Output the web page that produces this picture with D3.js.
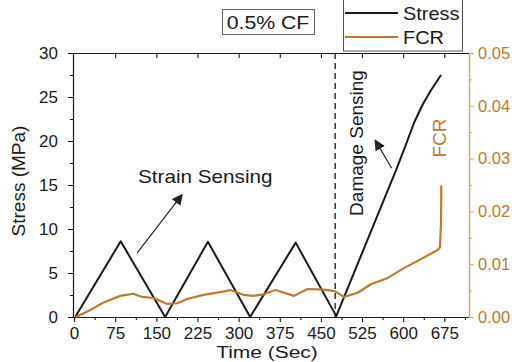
<!DOCTYPE html>
<html>
<head>
<meta charset="utf-8">
<script src="https://cdn.jsdelivr.net/npm/d3@7"></script>
<style>
  body { margin: 0; background: #fff; }
  svg { display: block; font-family: "Liberation Sans", Arial, sans-serif; }
</style>
</head>
<body>
<script>
// stress curve (time in s, stress in MPa)
const stressTime = [2, 85, 166, 244, 321, 404, 478, 587, 605, 620, 636, 651, 669];
const stressVal = [0, 8.6, 0, 8.55, 0, 8.45, 0.1, 16.7, 19.6, 22.1, 24.2, 25.8, 27.5];

// fractional change in resistance
const fcrTime = [3, 29, 53, 84, 108, 124, 145, 169, 188, 206, 236, 261, 285, 309, 327,
    345, 367, 401, 426, 455, 475, 492, 517, 541, 572, 602, 633, 663, 667, 669, 669.5];
const fcrVal = [0, 0.0013, 0.0027, 0.004, 0.0044, 0.0038, 0.0036, 0.0025, 0.0026, 0.0034,
    0.0042, 0.0046, 0.0051, 0.0042, 0.004, 0.0043, 0.0051, 0.004, 0.0053, 0.0052, 0.0049,
    0.0038, 0.0046, 0.0062, 0.0074, 0.0093, 0.011, 0.0127, 0.0132, 0.0179, 0.0249];

const xTicks = [0, 75, 150, 225, 300, 375, 450, 525, 600, 675];
const stressTicks = [0, 5, 10, 15, 20, 25, 30];
const fcrTicks = [0, 0.01, 0.02, 0.03, 0.04, 0.05];
const damageStart = 476;

const width = 517, height = 362;
const margin = {left: 73, right: 469, top: 53, bottom: 317};
const black = "#1a1a1a";
const orange = "#c0782c";
const orangeAxis = "#d2a877";
const font = "Liberation Sans, Arial, sans-serif";

const svg = d3.select("body").append("svg")
    .attr("width", width)
    .attr("height", height);

const x = d3.scaleLinear().domain([-2, 720]).range([margin.left, margin.right]);
const y = d3.scaleLinear().domain([0, 30]).range([margin.bottom, margin.top]);
const y2 = d3.scaleLinear().domain([0, 0.05]).range([margin.bottom, margin.top]);

// text in the source is drawn a bit wider than it is tall, so stretch it
function label(px, py, str, size, opts = {}) {
    const rot = opts.rotate ? ` rotate(${opts.rotate})` : "";
    const sx = opts.sx || 1;
    return svg.append("text")
        .attr("transform", `translate(${px},${py})${rot} scale(${sx},1)`)
        .attr("text-anchor", opts.anchor || "start")
        .attr("font-size", size)
        .attr("fill", opts.color || black)
        .text(str);
}

// minor ticks first
svg.append("g")
    .attr("transform", `translate(0,${margin.bottom})`)
    .call(d3.axisBottom(x).tickValues(d3.range(37.5, 720, 75)).tickSize(3).tickFormat(""))
    .call(g => g.select(".domain").remove());
svg.append("g")
    .attr("transform", `translate(${margin.left},0)`)
    .call(d3.axisLeft(y).tickValues(d3.range(2.5, 30, 5)).tickSize(3).tickFormat(""))
    .call(g => g.select(".domain").remove());
svg.append("g")
    .attr("transform", `translate(${margin.right},0)`)
    .call(d3.axisRight(y2).tickValues(d3.range(0.005, 0.05, 0.01)).tickSize(3).tickFormat(""))
    .call(g => g.select(".domain").remove())
    .call(g => g.selectAll("line").attr("stroke", orangeAxis));

// top border with inward ticks
svg.append("g")
    .attr("transform", `translate(0,${margin.top})`)
    .call(d3.axisBottom(x).tickValues(xTicks.slice(1)).tickSize(5).tickFormat("").tickSizeOuter(0))
    .call(g => g.select(".domain").attr("stroke", black));

// bottom axis
svg.append("g")
    .attr("transform", `translate(0,${margin.bottom})`)
    .call(d3.axisBottom(x).tickValues(xTicks).tickSize(5).tickPadding(5).tickSizeOuter(0))
    .call(g => g.select(".domain").attr("stroke", black).attr("stroke-width", 1.2))
    .call(g => g.selectAll("text").attr("font-size", 17).attr("fill", black).attr("font-family", font));

// left axis
svg.append("g")
    .attr("transform", `translate(${margin.left},0)`)
    .call(d3.axisLeft(y).tickValues(stressTicks).tickSize(5).tickPadding(10).tickSizeOuter(0))
    .call(g => g.select(".domain").attr("stroke", black).attr("stroke-width", 1.2))
    .call(g => g.selectAll("text").attr("font-size", 17).attr("fill", black).attr("font-family", font));

// right axis
svg.append("g")
    .attr("transform", `translate(${margin.right},0)`)
    .call(d3.axisRight(y2).tickValues(fcrTicks).tickSize(5).tickPadding(4)
        .tickFormat(d3.format(".2f")).tickSizeOuter(0))
    .call(g => g.select(".domain").attr("stroke", orangeAxis).attr("stroke-width", 1.5))
    .call(g => g.selectAll("line").attr("stroke", orangeAxis))
    .call(g => g.selectAll("text").attr("font-size", 16.5).attr("fill", orange).attr("font-family", font));

// damage onset
svg.append("line")
    .attr("x1", x(damageStart)).attr("x2", x(damageStart))
    .attr("y1", margin.top).attr("y2", margin.bottom)
    .attr("stroke", "#333").attr("stroke-width", 1.5)
    .attr("stroke-dasharray", "6,4");

// curves
const stressLine = d3.line().x(i => x(stressTime[i])).y(i => y(stressVal[i]));
svg.append("path")
    .attr("d", stressLine(d3.range(stressTime.length)))
    .attr("fill", "none").attr("stroke", black).attr("stroke-width", 2)
    .attr("stroke-linejoin", "round");

const fcrLine = d3.line().x(i => x(fcrTime[i])).y(i => y2(fcrVal[i]));
svg.append("path")
    .attr("d", fcrLine(d3.range(fcrTime.length)))
    .attr("fill", "none").attr("stroke", orange).attr("stroke-width", 2.2)
    .attr("stroke-linejoin", "round");

// arrows
svg.append("defs").append("marker")
    .attr("id", "head")
    .attr("viewBox", "0 0 10 10")
    .attr("refX", 9).attr("refY", 5)
    .attr("markerWidth", 11).attr("markerHeight", 11)
    .attr("markerUnits", "userSpaceOnUse")
    .attr("orient", "auto")
    .append("path").attr("d", "M0,0L10,5L0,10z").attr("fill", "#222");

svg.append("line")
    .attr("x1", x(115)).attr("y1", y(7.3))
    .attr("x2", x(197)).attr("y2", y(13.9))
    .attr("stroke", "#222").attr("stroke-width", 1.2)
    .attr("marker-end", "url(#head)");
svg.append("line")
    .attr("x1", x(579)).attr("y1", y(16.9))
    .attr("x2", x(549)).attr("y2", y(20.1))
    .attr("stroke", "#222").attr("stroke-width", 1.2)
    .attr("marker-end", "url(#head)");

// annotations
label(138, 183, "Strain Sensing", 18, {sx: 1.15});
label(363, 143, "Damage Sensing", 19, {rotate: -90, anchor: "middle"});
label(446, 138, "FCR", 19, {rotate: -90, anchor: "middle", color: orange});
label(25, 181, "Stress (MPa)", 19, {rotate: -90, anchor: "middle"});
label(267, 358, "Time (Sec)", 16.5, {anchor: "middle", sx: 1.27});

// sample label box
svg.append("rect")
    .attr("x", 222.5).attr("y", 9.5).attr("width", 92).attr("height", 25)
    .attr("fill", "#fff").attr("stroke", "#666");
label(268, 28.5, "0.5% CF", 18.5, {anchor: "middle", sx: 1.15});

// legend
svg.append("rect")
    .attr("x", 343.5).attr("y", -2).attr("width", 119).attr("height", 53)
    .attr("fill", "#fff").attr("stroke", "#555");
[["Stress", black, 13], ["FCR", orange, 37]].forEach(([name, color, ly]) => {
    svg.append("line")
        .attr("x1", 345).attr("x2", 398).attr("y1", ly).attr("y2", ly)
        .attr("stroke", color).attr("stroke-width", 2);
    label(403, ly + 7, name, 19, {sx: 1.05});
});
</script>
</body>
</html>
